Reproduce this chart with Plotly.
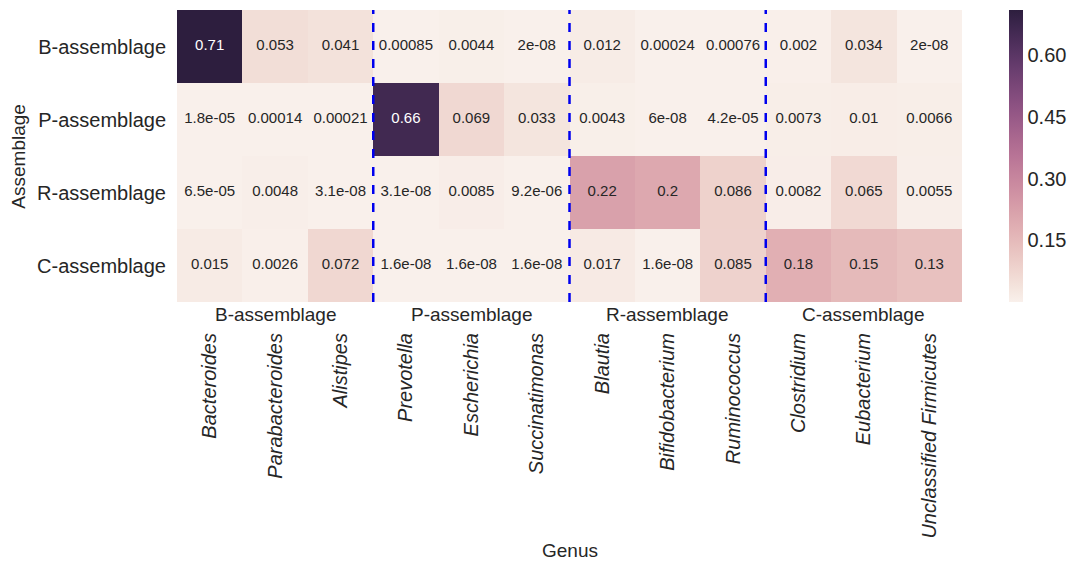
import numpy as np
import plotly.graph_objects as go

genera = ["Bacteroides", "Parabacteroides", "Alistipes",
          "Prevotella", "Escherichia", "Succinatimonas",
          "Blautia", "Bifidobacterium", "Ruminococcus",
          "Clostridium", "Eubacterium", "Unclassified Firmicutes"]
assemblages = ["B-assemblage", "P-assemblage", "R-assemblage", "C-assemblage"]
groups = ["B-assemblage", "P-assemblage", "R-assemblage", "C-assemblage"]

b_row = [0.71, 0.053, 0.041, 0.00085, 0.0044, 2e-08, 0.012, 0.00024, 0.00076, 0.002, 0.034, 2e-08]
p_row = [1.8e-05, 0.00014, 0.00021, 0.66, 0.069, 0.033, 0.0043, 6e-08, 4.2e-05, 0.0073, 0.01, 0.0066]
r_row = [6.5e-05, 0.0048, 3.1e-08, 3.1e-08, 0.0085, 9.2e-06, 0.22, 0.2, 0.086, 0.0082, 0.065, 0.0055]
c_row = [0.015, 0.0026, 0.072, 1.6e-08, 1.6e-08, 1.6e-08, 0.017, 1.6e-08, 0.085, 0.18, 0.15, 0.13]

colorbar_ticks = [0.15, 0.30, 0.45, 0.60]

z = [b_row, p_row, r_row, c_row]
zmin = min(min(r) for r in z)
zmax = max(max(r) for r in z)


# seaborn-style cubehelix palette (light=0.95, dark=0.15)
def cubehelix(x, gamma=1.0, s=0.0, r=0.4, h=0.8):
    xg = x ** gamma
    a = h * xg * (1 - xg) / 2
    phi = 2 * np.pi * (s / 3 + r * x)
    red = xg + a * (-0.14861 * np.cos(phi) + 1.78277 * np.sin(phi))
    green = xg + a * (-0.29227 * np.cos(phi) - 0.90649 * np.sin(phi))
    blue = xg + a * (1.97294 * np.cos(phi))
    return [float(np.clip(c, 0, 1)) for c in (red, green, blue)]


n = 21
scale = []
for i, t in enumerate(np.linspace(0.95, 0.15, n)):
    rr, gg, bb = cubehelix(t)
    scale.append([i / (n - 1), f"rgb({int(round(rr*255))},{int(round(gg*255))},{int(round(bb*255))})"])

FONT = "Liberation Sans, Arial, sans-serif"
TXT = "#262626"

fig = go.Figure()
fig.add_trace(go.Heatmap(
    z=z, x=genera, y=assemblages, hoverinfo="skip",
    colorscale=scale, zmin=zmin, zmax=zmax,
    colorbar=dict(thickness=14, len=1, lenmode="fraction", y=0.5, yanchor="middle",
                  x=1.06, xanchor="left", xpad=0, ypad=0, outlinewidth=0,
                  tickvals=colorbar_ticks, ticktext=[f"{v:.2f}" for v in colorbar_ticks],
                  ticks="", tickfont=dict(size=20, family=FONT, color=TXT)),
))

# cell annotations as a text scatter (colour depends on value)
tx, ty, tt, tc = [], [], [], []
for yi, row in zip(assemblages, z):
    for xi, v in zip(genera, row):
        tx.append(xi)
        ty.append(yi)
        tt.append(format(v, ".2g"))
        tc.append("white" if (v - zmin) / (zmax - zmin) > 0.6 else TXT)
fig.add_trace(go.Scatter(x=tx, y=ty, text=tt, mode="text", hoverinfo="skip",
                         textfont=dict(size=15, family=FONT, color=tc), showlegend=False))

# dashed separators between groups
for k in range(1, len(groups)):
    fig.add_shape(type="line", xref="x", yref="paper", x0=3 * k - 0.5, x1=3 * k - 0.5,
                  y0=0, y1=1, line=dict(color="#0000ee", width=2.5, dash="dash"))

for k, g in enumerate(groups):
    fig.add_annotation(x=3 * k + 1, y=0, xref="x", yref="paper", yanchor="top",
                       yshift=0, text=g, showarrow=False,
                       font=dict(size=19, family=FONT, color=TXT))

# axis titles
fig.add_annotation(x=-0.203, y=0.5, xref="paper", yref="paper", xanchor="center", yanchor="middle",
                   text="Assemblage", textangle=-90, showarrow=False,
                   font=dict(size=19, family=FONT, color=TXT))
fig.add_annotation(x=0.5, y=-0.85, xref="paper", yref="paper", xanchor="center", yanchor="middle",
                   text="Genus", showarrow=False,
                   font=dict(size=19, family=FONT, color=TXT))

fig.update_xaxes(tickangle=-90, ticks="outside", ticklen=22, tickcolor="rgba(0,0,0,0)",
                 tickfont=dict(size=20, family=FONT, color=TXT, style="italic"),
                 showgrid=False, zeroline=False, showline=False, range=[-0.5, 11.5])
fig.update_yaxes(autorange="reversed", ticks="outside", ticklen=6, tickcolor="rgba(0,0,0,0)",
                 tickfont=dict(size=20, family=FONT, color=TXT),
                 showgrid=False, zeroline=False, showline=False)

# page body adds an 8px margin; compensate so the plot area lands at the reference position
fig.update_layout(width=1077, height=567, margin=dict(l=169, r=123, t=2, b=273),
                  plot_bgcolor="white", paper_bgcolor="white",
                  font=dict(family=FONT, color=TXT))

fig.write_html("out.html")
